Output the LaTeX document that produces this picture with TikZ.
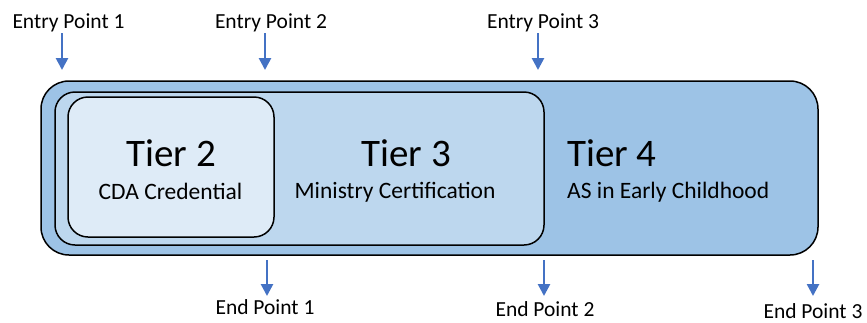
\documentclass[tikz,border=0pt]{standalone}
\usepackage{fontspec}
\setmainfont{Carlito}
\usetikzlibrary{arrows.meta}
\definecolor{outerblue}{RGB}{157,195,230}
\definecolor{midblue}{RGB}{189,215,238}
\definecolor{innerblue}{RGB}{222,235,247}
\definecolor{arrowblue}{RGB}{68,114,196}
\tikzset{
  tierbox/.style={draw=black, line width=1.5pt, inner sep=0pt},
  titletext/.style={inner sep=0pt, anchor=base, font=\fontsize{39}{39}\selectfont},
  subtext/.style={inner sep=0pt, anchor=base, font=\fontsize{23.5}{23.5}\selectfont},
  pointlabel/.style={inner sep=0pt, anchor=base, font=\fontsize{21.5}{21.5}\selectfont},
  flowarrow/.style={draw=arrowblue, line width=2.6pt, -{Triangle[width=12pt,length=12pt]}}
}
\begin{document}
\begin{tikzpicture}[x=1pt,y=-1pt]
\useasboundingbox (0,0) rectangle (867,322);
% boxes
\node[tierbox, fill=outerblue, rounded corners=28pt, minimum width=777pt, minimum height=174pt] (tier4box) at (429.5,168) {};
\node[tierbox, fill=midblue, rounded corners=20pt, minimum width=489pt, minimum height=153pt] (tier3box) at (299.5,168.5) {};
\node[tierbox, fill=innerblue, rounded corners=20pt, minimum width=206pt, minimum height=140pt] (tier2box) at (171,167) {};
% texts
\node[titletext] (t2) at (171,166) {Tier 2};
\node[subtext] (s2) at (170.5,199) {CDA Credential};
\node[titletext] (t3) at (406,166) {Tier 3};
\node[subtext] (s3) at (395,198) {Ministry Certification};
\node[titletext, anchor=base west] (t4) at (567,166) {Tier 4};
\node[subtext, anchor=base west] (s4) at (567,198) {AS in Early Childhood};
% labels
\node[pointlabel] (ep1) at (68.5,28) {Entry Point 1};
\node[pointlabel] (ep2) at (271,28) {Entry Point 2};
\node[pointlabel] (ep3) at (543,28) {Entry Point 3};
\node[pointlabel] (nd1) at (265,314) {End Point 1};
\node[pointlabel] (nd2) at (545,316) {End Point 2};
\node[pointlabel] (nd3) at (813,318) {End Point 3};
% arrow coordinates
\coordinate (a1s) at (62,33);  \coordinate (a1e) at (62,70);
\coordinate (a2s) at (265,33); \coordinate (a2e) at (265,70);
\coordinate (a3s) at (538,33); \coordinate (a3e) at (538,70);
\coordinate (b1s) at (267,260); \coordinate (b1e) at (267,296);
\coordinate (b2s) at (544,260); \coordinate (b2e) at (544,296);
\coordinate (b3s) at (813,260); \coordinate (b3e) at (813,296);
\draw[flowarrow] (a1s) -- (a1e);
\draw[flowarrow] (a2s) -- (a2e);
\draw[flowarrow] (a3s) -- (a3e);
\draw[flowarrow] (b1s) -- (b1e);
\draw[flowarrow] (b2s) -- (b2e);
\draw[flowarrow] (b3s) -- (b3e);
\end{tikzpicture}
\end{document}
